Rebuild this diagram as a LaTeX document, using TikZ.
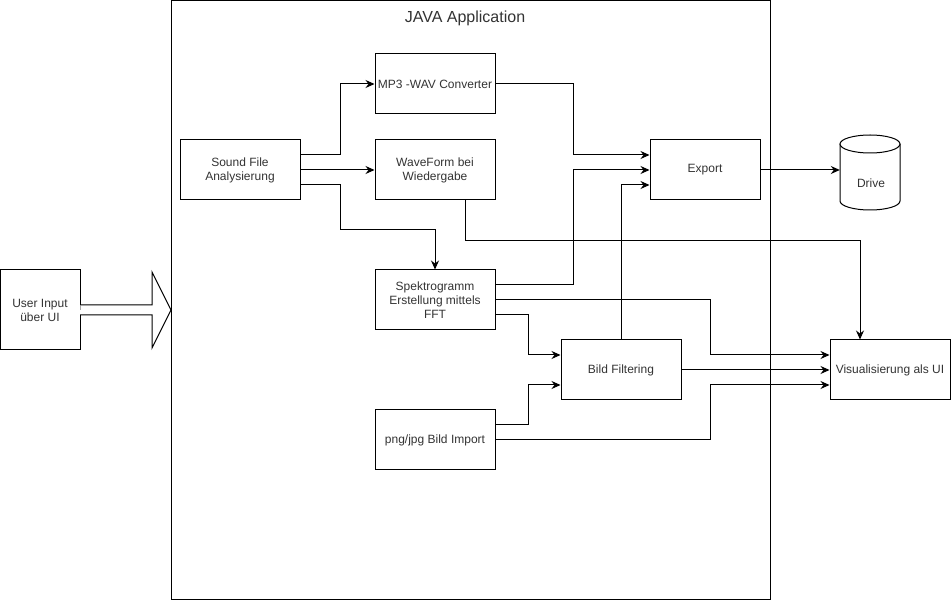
\documentclass[tikz,border=0pt]{standalone}
\usepackage{fontspec}
\setmainfont{Liberation Sans}
\usetikzlibrary{arrows.meta,calc}
\begin{document}
\begin{tikzpicture}[x=1pt,y=-1pt,
  box/.style={draw,line width=1pt,minimum width=120pt,minimum height=60pt,inner sep=0pt,align=center,font=\fontsize{12}{14}\selectfont,text=black!80},
  conn/.style={draw,line width=1pt,-{Stealth[length=9pt,width=8pt,inset=3pt]}},
  plain/.style={draw,line width=1pt}]
\useasboundingbox (0,0) rectangle (951,601);
% container
\node[draw,line width=1pt,minimum width=599pt,minimum height=599pt,inner sep=0pt] (app) at (470.5,300) {};
\node[font=\fontsize{16}{18}\selectfont,text=black!80] (title) at (465,18.5) {JAVA Application};
% nodes
\node[box,minimum width=80pt,minimum height=80pt] (ui) at (40,310) {User Input\\über UI};
\node[box] (sf) at (240,170) {Sound File\\Analysierung};
\node[box] (mp) at (435,84) {MP3 -WAV Converter};
\node[box] (wf) at (435,170) {WaveForm bei\\Wiedergabe};
\node[box] (sp) at (435,300) {Spektrogramm\\Erstellung mittels\\FFT};
\node[box] (bf) at (621,370) {Bild Filtering};
\node[box] (pg) at (435,440) {png/jpg Bild Import};
\node[box,minimum width=110pt] (ex) at (705,170) {Export};
\node[box] (vi) at (890,370) {Visualisierung als UI};
% drive cylinder
\node[minimum width=60pt,minimum height=75pt,inner sep=0pt] (dr) at (870,172.5) {};
\draw[line width=1pt,fill=white] (900,144) -- (900,201) arc[start angle=0,end angle=180,x radius=30,y radius=9] -- (840,144);
\draw[line width=1pt,fill=white] (870,144) ellipse[x radius=30,y radius=9];
\node[font=\fontsize{12}{14}\selectfont,text=black!80] (drl) at (871,183) {Drive};
% big hollow arrow
\draw[line width=1pt,fill=white] (ui.east) ++(0,-5) -- (152,305) -- (152,272) -- (171,310) -- (152,348) -- (152,315) -- (80,315);
% connectors
\draw[conn] ($(sf.east)+(0,-15)$) -- ++(40,0) |- (mp.west);
\draw[conn] (sf.east) -- (wf.west);
\draw[conn] ($(sf.east)+(0,15)$) -- ++(40,0) -- ++(0,45) -| (sp.north);
\draw[conn] (mp.east) -- ++(78,0) |- ($(ex.west)+(0,-15)$);
\draw[conn] ($(sp.east)+(0,-15)$) -- ++(78,0) |- (ex.west);
\draw[conn] (bf.north) |- ($(ex.west)+(0,15)$);
\draw[conn] (ex.east) -- (ex.east -| dr.west);
\draw[conn] ($(wf.south)+(30,0)$) -- ++(0,40) -| ($(vi.north)+(-30,0)$);
\draw[conn] (sp.east) -- ++(215,0) |- ($(vi.west)+(0,-15)$);
\draw[conn] ($(sp.east)+(0,15)$) -- ++(33,0) |- ($(bf.west)+(0,-15)$);
\draw[conn] ($(pg.east)+(0,-15)$) -- ++(33,0) |- ($(bf.west)+(0,15)$);
\draw[conn] (bf.east) -- (vi.west);
\draw[conn] (pg.east) -- ++(215,0) |- ($(vi.west)+(0,15)$);
\end{tikzpicture}
\end{document}
